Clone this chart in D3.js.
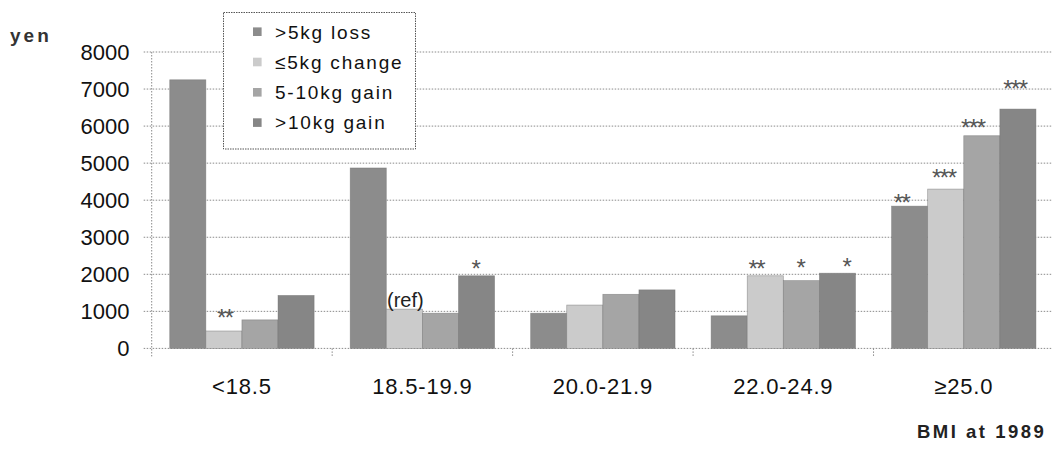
<!DOCTYPE html>
<html>
<head>
<meta charset="utf-8">
<script src="https://cdn.jsdelivr.net/npm/d3@7"></script>
<style>
  html, body { margin: 0; padding: 0; background: #fff; }
  svg { display: block; }
  text { font-family: "Liberation Sans", Arial, sans-serif; }
</style>
</head>
<body>
<svg id="chart" width="1054" height="453"></svg>
<script>
// BMI groups at 1989 and weight-change series (yen)
const categories = ["<18.5", "18.5-19.9", "20.0-21.9", "22.0-24.9", "\u226525.0"];
const seriesNames = [">5kg loss", "\u22645kg change", "5-10kg gain", ">10kg gain"];
const loss5    = [7250, 4870,  950,  880, 3840];
const change5  = [ 470, 1060, 1170, 1960, 4300];
const gain5_10 = [ 770,  950, 1460, 1830, 5740];
const gain10   = [1430, 1960, 1580, 2030, 6460];
const yTicks = [0, 1000, 2000, 3000, 4000, 5000, 6000, 7000, 8000];

// significance marks: category index, series index, label
const markCat    = [0, 1, 1, 3, 3, 3, 4, 4, 4, 4];
const markSeries = [1, 1, 3, 1, 2, 3, 0, 1, 2, 3];
const markText   = ["**", "(ref)", "*", "**", "*", "*", "**", "***", "***", "***"];

const seriesValues = [loss5, change5, gain5_10, gain10];
const colors = ["#8c8c8c", "#cbcbcb", "#a5a5a5", "#868686"];

const svg = d3.select("#chart");
const plotLeft = 151.7, plotRight = 1054, plotTop = 52, plotBottom = 348.4;

const x = d3.scaleBand().domain(categories).range([plotLeft, plotRight]).paddingInner(0).paddingOuter(0);
const xs = d3.scaleBand().domain(d3.range(seriesNames.length))
  .range([0, x.bandwidth()]).paddingInner(0).paddingOuter(0.5);
const y = d3.scaleLinear().domain([0, 8000]).range([plotBottom, plotTop]);

// horizontal gridlines
svg.append("g").selectAll("line").data(yTicks).join("line")
  .attr("x1", plotLeft - 8).attr("x2", plotRight - 2)
  .attr("y1", d => y(d)).attr("y2", d => y(d))
  .attr("stroke", "#8a8a8a").attr("stroke-width", 1)
  .attr("stroke-dasharray", "1.5,1.5");

// vertical axis line
svg.append("line")
  .attr("x1", plotLeft).attr("x2", plotLeft).attr("y1", y(8000)).attr("y2", plotBottom + 8)
  .attr("stroke", "#8a8a8a").attr("stroke-dasharray", "1.5,1.5");

// category boundary ticks
svg.append("g").selectAll("line").data(categories.slice(1)).join("line")
  .attr("x1", d => x(d)).attr("x2", d => x(d))
  .attr("y1", plotBottom).attr("y2", plotBottom + 8)
  .attr("stroke", "#8a8a8a").attr("stroke-dasharray", "1.5,1.5");

// y tick labels
svg.append("g").selectAll("text").data(yTicks).join("text")
  .attr("x", 129.5).attr("y", d => y(d) + 8)
  .attr("text-anchor", "end").attr("font-size", 22).attr("fill", "#111")
  .text(d => d);

// bars
const barG = svg.append("g");
seriesValues.forEach((vals, si) => {
  barG.selectAll(null).data(vals).join("rect")
    .attr("x", (d, ci) => x(categories[ci]) + xs(si))
    .attr("width", xs.bandwidth())
    .attr("y", d => y(d))
    .attr("height", d => y(0) - y(d))
    .attr("fill", colors[si])
    .attr("stroke", "#6f6f6f").attr("stroke-width", 0.7).attr("stroke-opacity", 0.6);
});

// category labels
svg.append("g").selectAll("text").data(categories).join("text")
  .attr("x", d => x(d) + x.bandwidth() / 2)
  .attr("y", 394)
  .attr("text-anchor", "middle").attr("font-size", 22)
  .attr("letter-spacing", 0.8).attr("fill", "#111")
  .text(d => d);

// significance marks above bars (small hand-placed nudges)
const nudgeX = [0, 1, -2, -10, -2, 8, -9, -3, -10, -4];
const lift   = [17, 9, 11, 11, 17, 10, 7, 15, 12, 24];
markText.forEach((t, i) => {
  const ci = markCat[i], si = markSeries[i];
  const v = seriesValues[si][ci];
  const cx = x(categories[ci]) + xs(si) + xs.bandwidth() / 2 + nudgeX[i];
  const cy = y(v) - lift[i];
  if (t === "(ref)") {
    svg.append("text").attr("x", cx).attr("y", cy + 7)
      .attr("text-anchor", "middle").attr("font-size", 20).attr("fill", "#222")
      .text(t);
  } else {
    svg.append("text").attr("x", cx + 1).attr("y", cy + 12)
      .attr("text-anchor", "middle").attr("font-size", 24)
      .attr("font-family", "DejaVu Sans")
      .attr("letter-spacing", -1.5).attr("fill", "#555")
      .text(t);
  }
});

// legend
const lg = svg.append("g");
lg.append("rect").attr("x", 223.5).attr("y", 12.5).attr("width", 192).attr("height", 136.5)
  .attr("fill", "#fff").attr("stroke", "#555").attr("stroke-width", 1)
  .attr("stroke-dasharray", "1.5,1");
seriesNames.forEach((name, i) => {
  const cy = 31.7 + i * 30.3;
  lg.append("rect").attr("x", 253).attr("y", cy - 4.3).attr("width", 8.6).attr("height", 8.6)
    .attr("fill", colors[i]);
  lg.append("text").attr("x", 275).attr("y", cy + 6.8)
    .attr("font-size", 19).attr("letter-spacing", 1.8).attr("fill", "#111")
    .text(name);
});

// axis titles
svg.append("text").attr("x", 10).attr("y", 42)
  .attr("font-size", 19).attr("font-weight", "bold").attr("letter-spacing", 3)
  .attr("fill", "#333").text("yen");
svg.append("text").attr("x", 917).attr("y", 438)
  .attr("font-size", 18.5).attr("font-weight", "bold").attr("letter-spacing", 2.5)
  .attr("fill", "#222").text("BMI at 1989");
</script>
</body>
</html>
